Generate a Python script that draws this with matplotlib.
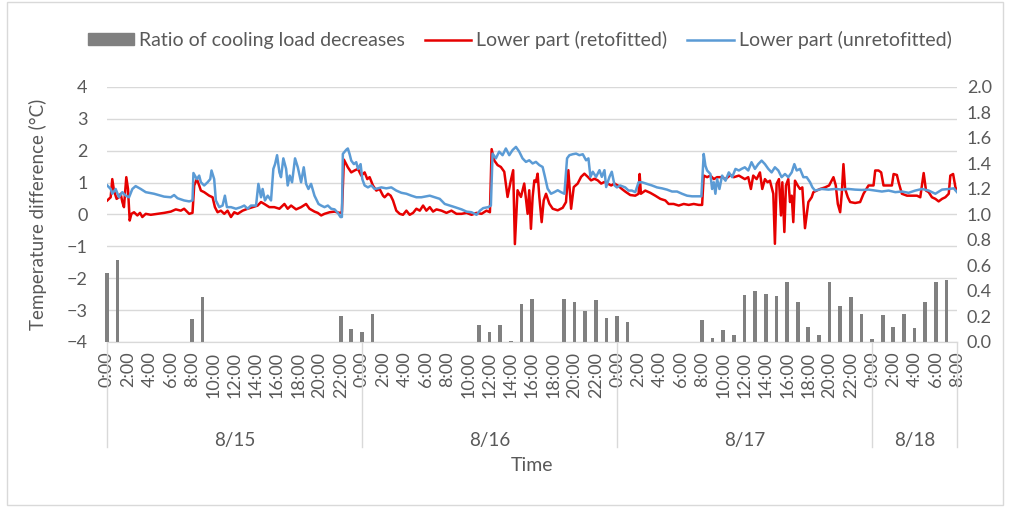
import matplotlib
matplotlib.use("Agg")
import matplotlib.pyplot as plt
from matplotlib.patches import Patch, Rectangle
from matplotlib.lines import Line2D

plt.rcParams['font.family'] = ['Lato', 'DejaVu Sans']

# time axis: hours from 8/15 0:00
days = ['8/15', '8/16', '8/17', '8/18']
day_starts = [0, 24, 48, 72, 80]
tick_hours = list(range(0, 81, 2))
tick_labels = ['%d:00' % (h % 24) for h in tick_hours]

# ratio of cooling load decreases (right axis), hourly bars
bar_hours = [0, 1, 8, 9, 22, 23, 24, 25,
             35, 36, 37, 38, 39, 40, 43, 44, 45, 46, 47, 48, 49,
             56, 57, 58, 59, 60, 61, 62, 63, 64, 65, 66, 67, 68, 69, 70,
             71, 72, 73, 74, 75, 76, 77, 78, 79]
bar_vals = [0.54, 0.64, 0.18, 0.35, 0.20, 0.10, 0.08, 0.22,
            0.13, 0.08, 0.13, 0.01, 0.30, 0.34, 0.34, 0.31, 0.24, 0.33, 0.19, 0.20, 0.155,
            0.175, 0.034, 0.097, 0.052, 0.366, 0.40, 0.38, 0.358, 0.468, 0.316, 0.115, 0.058,
            0.468, 0.28, 0.35, 0.22, 0.026, 0.21, 0.115, 0.22, 0.11, 0.31, 0.47, 0.49]

# lower part (retrofitted), temperature difference
red_h = [0.03, 0.35, 0.50, 0.66, 0.91, 1.13, 1.29, 1.45, 1.60, 1.70, 1.82, 1.98, 2.14, 2.30,
         2.55, 2.86, 3.11, 3.33, 3.65, 4.12, 4.75, 5.38, 6.01, 6.48, 6.95, 7.26, 7.74, 8.05,
         8.21, 8.46, 8.68, 8.84, 9.15, 9.62, 9.94, 10.16, 10.41, 10.72, 11.04, 11.35, 11.67,
         11.98, 12.30, 12.77, 13.24, 13.71, 14.18, 14.50, 14.81, 15.28, 15.75, 16.23, 16.70,
         17.01, 17.33, 17.80, 18.27, 18.74, 19.06, 19.53, 19.84, 20.16, 20.47, 20.95, 21.42,
         21.89, 22.11, 22.30, 22.52, 22.67, 22.99, 23.30, 23.62, 23.93, 24.25, 24.50, 24.72,
         25.03, 25.35, 25.66, 25.98, 26.13, 26.45, 26.70, 26.92, 27.23, 27.55, 27.86, 28.18,
         28.49, 28.81, 29.12, 29.44, 29.75, 30.06, 30.38, 30.69, 31.01, 31.48, 31.95, 32.42,
         32.89, 33.37, 33.84, 34.31, 34.78, 35.25, 35.72, 36.04, 36.20, 36.44, 36.76, 37.07,
         37.39, 37.70, 38.01, 38.23, 38.39, 38.64, 38.96, 39.27, 39.59, 39.74, 39.90, 40.06,
         40.22, 40.37, 40.53, 40.69, 40.91, 41.10, 41.32, 41.63, 41.95, 42.42, 42.89, 43.20,
         43.42, 43.68, 43.93, 44.30, 44.62, 44.93, 45.25, 45.56, 45.88, 46.19, 46.51, 46.82,
         47.13, 47.45, 47.76, 48.08, 48.46, 48.77, 49.25, 49.72, 50.03, 50.13, 50.25, 50.66,
         51.13, 51.60, 52.08, 52.55, 52.86, 53.33, 53.81, 54.28, 54.75, 55.22, 55.69, 56.01,
         56.16, 56.48, 56.79, 57.11, 57.42, 57.89, 58.21, 58.68, 58.99, 59.47, 59.72, 60.03,
         60.35, 60.60, 60.82, 61.14, 61.45, 61.67, 61.92, 62.17, 62.39, 62.71, 62.86, 63.02,
         63.24, 63.43, 63.56, 63.75, 63.90, 64.12, 64.28, 64.44, 64.59, 64.75, 65.00, 65.22,
         65.44, 65.69, 65.85, 66.01, 66.32, 66.48, 66.80, 67.11, 67.58, 67.96, 68.37, 68.59,
         68.78, 69.00, 69.15, 69.31, 69.47, 69.72, 69.94, 70.41, 70.88, 71.20, 71.67, 72.14,
         72.30, 72.61, 72.86, 73.08, 73.56, 73.87, 74.03, 74.34, 74.50, 74.81, 75.29, 75.76,
         76.23, 76.54, 76.86, 77.08, 77.33, 77.64, 77.96, 78.27, 78.59, 78.90, 79.22, 79.37,
         79.63, 79.85, 80.0]
red_v = [0.44, 0.54, 1.11, 0.75, 0.49, 0.54, 0.65, 0.39, 0.23, 0.65, 1.17, 0.80, -0.19, 0.02,
         0.07, -0.03, 0.05, -0.08, 0.02, -0.01, 0.02, 0.05, 0.09, 0.16, 0.12, 0.18, 0.02, 0.05,
         0.91, 1.11, 0.91, 0.75, 0.70, 0.59, 0.54, 0.23, 0.07, 0.12, 0.02, 0.12, -0.08,
         0.07, 0.02, 0.12, 0.18, 0.23, 0.28, 0.39, 0.33, 0.23, 0.23, 0.18, 0.33,
         0.18, 0.28, 0.16, 0.23, 0.33, 0.18, 0.09, 0.05, -0.03, 0.02, 0.07, 0.09,
         0.05, 0.07, 1.72, 1.58, 1.48, 1.32, 1.38, 1.43, 1.22, 1.32, 1.11, 1.17,
         0.91, 0.75, 0.80, 0.59, 0.54, 0.65, 0.59, 0.44, 0.12, 0.02, -0.01, 0.12,
         -0.01, 0.05, 0.18, 0.12, 0.28, 0.12, 0.23, 0.09, 0.16, 0.12, 0.05, 0.12,
         0.02, 0.02, 0.05, -0.01, 0.05, 0.02, 0.12, 0.07, 2.05, 1.70, 1.55, 1.49,
         1.34, 0.55, 1.07, 1.39, -0.93, 0.76, 0.55, 0.97, 0.02, 0.76, -0.45, 0.55,
         1.07, 1.02, 1.28, 0.55, -0.24, 0.44, 0.65, 0.34, 0.18, 0.13, 0.21, 0.39,
         1.39, 0.18, 0.86, 0.97, 1.18, 1.28, 1.18, 1.07, 1.12, 1.07, 0.97, 1.02,
         0.97, 0.91, 0.97, 0.91, 0.80, 0.72, 0.61, 0.59, 0.65, 1.27, 0.65, 0.75,
         0.68, 0.59, 0.49, 0.44, 0.33, 0.33, 0.28, 0.33, 0.30, 0.33, 0.30, 0.30,
         1.22, 1.17, 1.22, 1.11, 1.17, 1.17, 1.11, 1.24, 1.17, 1.22, 1.17, 1.11,
         1.17, 0.80, 1.22, 1.11, 1.32, 0.80, 1.11, 1.01, 1.06, 0.65, -0.92, 0.96,
         1.11, -0.03, 1.01, -0.55, 0.91, 1.11, 0.39, 0.59, -0.24, 1.06, 0.91, 0.80,
         0.85, -0.43, -0.03, 0.39, 0.54, 0.70, 0.75, 0.80, 0.85, 0.91, 1.17, 0.91,
         0.33, 0.07, 0.65, 1.58, 0.80, 0.54, 0.39, 0.36, 0.39, 0.65, 0.91, 0.91,
         1.38, 1.38, 1.32, 0.91, 0.91, 0.91, 1.27, 1.24, 1.01, 0.65, 0.59, 0.59,
         0.59, 0.54, 1.30, 0.75, 0.70, 0.54, 0.49, 0.41, 0.49, 0.54, 0.65, 1.22,
         1.27, 0.85, 0.75]

# lower part (unretrofitted), temperature difference
blue_h = [0.03, 0.35, 0.50, 0.82, 1.13, 1.45, 1.76, 2.08, 2.39, 2.70, 3.18, 3.65, 4.43, 5.38,
          6.01, 6.32, 6.64, 7.26, 7.74, 8.05, 8.14, 8.46, 8.68, 8.84, 9.15, 9.47, 9.72, 9.84,
          10.09, 10.25, 10.57, 10.88, 11.10, 11.29, 11.67, 12.14, 12.61, 12.92, 13.24, 13.55,
          14.03, 14.25, 14.50, 14.65, 14.87, 15.13, 15.44, 15.66, 15.82, 16.01, 16.23, 16.38,
          16.60, 16.86, 17.01, 17.20, 17.42, 17.70, 17.96, 18.27, 18.52, 18.74, 18.96, 19.21,
          19.53, 19.91, 20.16, 20.47, 20.79, 21.10, 21.42, 21.73, 21.98, 22.11, 22.20, 22.52,
          22.67, 22.83, 22.99, 23.24, 23.46, 23.62, 23.87, 24.03, 24.25, 24.56, 24.88, 25.19,
          25.50, 25.82, 26.29, 26.76, 27.23, 27.71, 28.18, 28.65, 29.12, 29.59, 30.06, 30.38,
          30.85, 31.32, 31.79, 32.27, 32.74, 33.37, 33.84, 34.31, 34.78, 35.10, 35.41, 35.88,
          36.13, 36.29, 36.60, 36.91, 37.23, 37.54, 37.86, 38.17, 38.49, 38.80, 39.11, 39.43,
          39.74, 40.06, 40.37, 40.69, 41.00, 41.22, 41.47, 41.79, 42.10, 42.42, 42.73, 43.05,
          43.30, 43.52, 43.83, 44.15, 44.46, 44.78, 45.09, 45.31, 45.50, 45.72, 46.03, 46.35,
          46.57, 46.82, 46.98, 47.29, 47.51, 47.77, 47.99, 48.30, 48.77, 49.09, 49.40, 49.72,
          50.03, 50.35, 50.82, 51.29, 51.76, 52.23, 52.70, 53.18, 53.65, 54.12, 54.59, 55.06,
          55.53, 55.94, 56.16, 56.32, 56.48, 56.79, 56.95, 57.11, 57.26, 57.42, 57.64, 57.89,
          58.21, 58.52, 58.84, 59.15, 59.47, 59.72, 60.03, 60.35, 60.66, 60.98, 61.29, 61.61,
          61.92, 62.24, 62.55, 62.86, 63.18, 63.49, 63.81, 64.12, 64.44, 64.69, 64.91, 65.22,
          65.54, 65.85, 66.17, 66.39, 66.64, 67.27, 67.90, 68.53, 69.15, 69.78, 70.41, 71.04,
          71.67, 72.30, 72.93, 73.56, 74.19, 74.81, 75.44, 76.07, 76.70, 77.33, 77.96, 78.59,
          79.22, 79.69, 80.0]
blue_v = [0.91, 0.80, 0.65, 0.80, 0.54, 0.70, 0.59, 0.54, 0.80, 0.89, 0.80, 0.70, 0.65, 0.56,
          0.54, 0.61, 0.51, 0.44, 0.41, 0.44, 1.30, 1.11, 1.22, 1.01, 0.91, 1.01, 1.11, 1.38,
          1.11, 0.44, 0.23, 0.28, 0.59, 0.23, 0.23, 0.18, 0.23, 0.28, 0.18, 0.28,
          0.28, 0.96, 0.54, 0.80, 0.44, 0.59, 0.44, 1.43, 1.58, 1.86, 1.32, 1.17,
          1.76, 1.43, 0.91, 1.22, 1.01, 1.76, 1.48, 1.01, 1.48, 0.96, 0.80, 0.96,
          0.59, 0.33, 0.28, 0.23, 0.28, 0.18, 0.16, 0.05, -0.08, -0.08, 1.90, 2.03,
          2.07, 1.90, 1.69, 1.58, 1.64, 1.43, 1.58, 1.11, 0.91, 0.85, 0.91, 0.80,
          0.82, 0.85, 0.82, 0.85, 0.75, 0.68, 0.65, 0.59, 0.54, 0.54, 0.57, 0.59,
          0.54, 0.49, 0.33, 0.28, 0.23, 0.16, 0.09, 0.07, -0.01, 0.12, 0.20, 0.23,
          0.28, 1.91, 1.76, 1.97, 1.86, 2.07, 1.86, 2.02, 2.12, 1.97, 1.76, 1.65,
          1.70, 1.60, 1.65, 1.55, 1.49, 1.18, 0.81, 0.65, 0.70, 0.76, 0.70, 0.65,
          1.76, 1.86, 1.89, 1.91, 1.86, 1.89, 1.70, 1.76, 1.18, 1.34, 1.18, 1.39,
          1.18, 1.39, 0.86, 1.18, 1.34, 0.91, 0.85, 0.91, 0.85, 0.75, 0.75, 0.70,
          1.01, 1.01, 0.96, 0.91, 0.85, 0.82, 0.78, 0.72, 0.72, 0.65, 0.59, 0.57,
          0.57, 0.57, 1.90, 1.53, 1.38, 1.27, 0.80, 1.01, 0.65, 1.11, 0.80, 1.22,
          1.06, 1.32, 1.17, 1.43, 1.38, 1.43, 1.48, 1.38, 1.64, 1.43, 1.58, 1.69,
          1.58, 1.43, 1.32, 1.48, 1.38, 1.17, 1.27, 1.17, 1.32, 1.58, 1.38, 1.43,
          1.17, 1.17, 1.01, 0.85, 0.75, 0.80, 0.78, 0.80, 0.78, 0.80, 0.78, 0.77,
          0.78, 0.75, 0.72, 0.75, 0.70, 0.72, 0.68, 0.75, 0.80, 0.75, 0.65, 0.78,
          0.80, 0.82, 0.70]

text_col = '#595959'
grid_col = '#D9D9D9'

fig = plt.figure(figsize=(10.09, 5.08), dpi=100)
ax = fig.add_axes([0.106, 0.3268, 0.8425, 0.502])
ax2 = ax.twinx()

ax.plot(red_h, red_v, color='#E60000', lw=1.8, zorder=3)
ax.plot(blue_h, blue_v, color='#5B9BD5', lw=1.8, zorder=4)
ax2.bar(bar_hours, bar_vals, width=0.35, color='#808080', clip_on=False)

ax.set_xlim(0, 80)
ax.set_ylim(-4, 4)
ax2.set_ylim(0, 2)
ax.set_yticks(range(-4, 5))
ax2.set_yticks([i / 5 for i in range(11)])
ax2.set_yticklabels(['%.1f' % (i / 5) for i in range(11)])
ax.yaxis.grid(True, color=grid_col, lw=1)
ax.set_axisbelow(True)

for a in (ax, ax2):
    for s in ('left', 'right', 'top'):
        a.spines[s].set_visible(False)
    a.spines['bottom'].set_color(grid_col)
ax.tick_params(axis='y', length=0, pad=14, labelsize=13, labelcolor=text_col)
ax2.tick_params(axis='y', length=0, pad=7, labelsize=13, labelcolor=text_col)

ax.set_xticks(tick_hours)
ax.set_xticklabels(tick_labels, rotation=90, va='top')
ax.tick_params(axis='x', length=0, pad=7, labelsize=13, labelcolor=text_col)

# day group separators and labels
tr = ax.get_xaxis_transform()
for h in day_starts:
    ax.plot([h, h], [0, -0.41], transform=tr, color=grid_col, lw=1, clip_on=False)
for i, d in enumerate(days):
    ax.text((day_starts[i] + day_starts[i + 1]) / 2, -0.385, d, transform=tr,
            ha='center', va='center', fontsize=13.5, color=text_col)
ax.text(40, -0.485, 'Time', transform=tr, ha='center', va='center',
        fontsize=14, color=text_col)

ax.set_ylabel('Temperature difference (°C)', fontsize=13.5, color=text_col, labelpad=14)

handles = [Patch(color='#808080'),
           Line2D([], [], color='#E60000', lw=1.8),
           Line2D([], [], color='#5B9BD5', lw=1.8)]
labels = ['Ratio of cooling load decreases', 'Lower part (retofitted)',
          'Lower part (unretofitted)']
leg = fig.legend(handles, labels, loc='center', bbox_to_anchor=(0.515, 0.921), ncol=3,
                 frameon=False, fontsize=14, handlelength=2.4, handleheight=0.55,
                 handletextpad=0.26, columnspacing=1.0)
for t in leg.get_texts():
    t.set_color(text_col)

fig.patches.append(Rectangle((0.007, 0.006), 0.987, 0.99, transform=fig.transFigure,
                             fill=False, edgecolor=grid_col, lw=1))

fig.savefig('out.png', dpi=100)
